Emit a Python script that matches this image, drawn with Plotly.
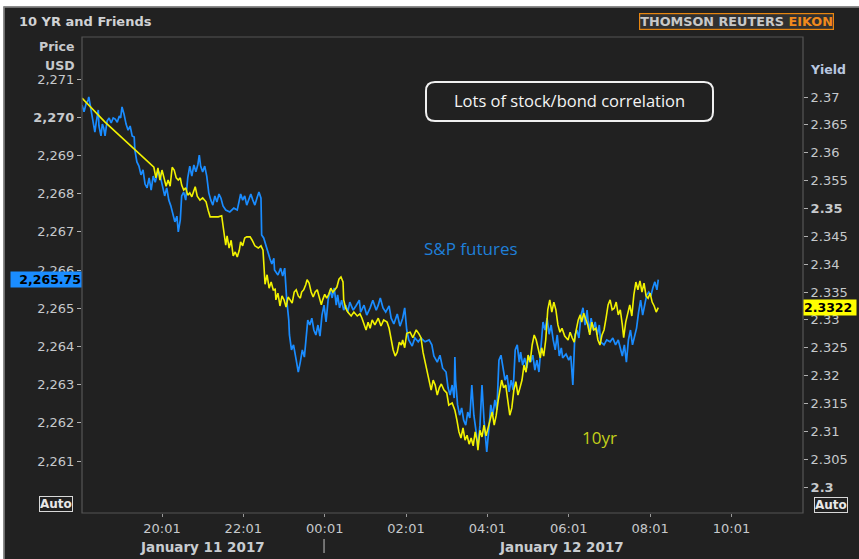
import plotly.graph_objects as go
import pandas as pd

# ---------------- data ----------------
BASE = pd.Timestamp("2017-01-11 18:00")

# S&P futures (left axis, price USD) - minutes after 2017-01-11 18:00
sp_minutes = [3,6,9,12,13,16,19,22,24,27,
    28,31,33,35,37,40,43,46,49,52,
    55,58,60,62,65,68,71,74,77,80,
    81,84,87,90,93,96,99,102,105,108,
    111,114,117,119,122,125,128,131,134,137,
    140,143,145,148,150,153,156,159,162,165,
    168,171,174,176,178,181,184,187,190,193,
    196,199,202,205,208,211,215,221,227,232,
    235,237,240,243,246,249,252,255,258,261,
    264,267,268,271,274,277,280,283,286,287,
    292,296,299,302,305,308,309,312,315,319,
    322,325,328,331,333,336,339,342,345,348,
    351,354,357,360,363,366,369,372,375,378,
    380,383,386,389,392,395,398,403,407,412,
    414,419,423,428,432,437,440,443,447,451,
    456,459,463,468,472,476,479,482,485,490,
    494,499,503,509,515,519,522,527,531,535,
    540,543,546,549,552,553,554,557,560,563,
    566,569,572,575,578,581,584,587,590,593,
    596,599,600,603,606,609,612,615,618,621,
    624,627,630,633,636,639,642,645,648,650,
    653,656,659,662,665,668,671,674,677,680,
    683,686,689,692,695,698,701,704,707,710,
    712,717,721,724,727,730,733,736,739,742,
    745,748,751,754,757,760,763,766,768,773,
    777,782,786,790,794,797,800,803,806,809,
    812,815,818,821,824,827,830,833,836,839,
    842,845,848,851,853]
sp_price = [2270.32,2270.14,2270.35,2270.45,2270.53,2270.24,2269.98,2269.61,2269.87,2270.19,
    2269.77,2269.51,2269.82,2269.72,2269.51,2269.90,2269.98,2269.85,2269.98,2269.95,
    2269.87,2270.03,2269.98,2270.27,2270.08,2269.82,2269.66,2269.77,2269.51,2269.48,
    2269.14,2268.83,2268.72,2268.49,2268.62,2268.25,2268.15,2268.41,2268.09,2268.46,
    2268.30,2268.51,2268.57,2268.41,2268.23,2267.94,2268.15,2267.83,2267.68,2267.47,
    2267.26,2267.41,2267.00,2267.31,2267.94,2268.04,2267.83,2268.41,2268.72,2268.46,
    2268.75,2268.57,2268.77,2269.01,2268.72,2268.57,2268.72,2268.46,2268.02,2267.83,
    2267.70,2267.94,2267.78,2267.99,2267.88,2267.68,2267.57,2267.52,2267.62,2267.57,
    2267.78,2267.99,2267.83,2267.94,2267.70,2267.86,2267.99,2267.83,2267.70,2267.88,
    2268.04,2267.88,2266.92,2266.84,2266.65,2266.52,2266.31,2266.16,2266.31,2266.00,
    2265.87,2266.05,2265.84,2266.05,2265.21,2264.69,2264.30,2263.91,2264.04,2263.64,
    2263.33,2263.59,2263.91,2263.72,2264.04,2264.69,2264.56,2264.74,2264.43,2264.30,
    2264.56,2264.27,2264.82,2265.08,2264.64,2265.21,2265.48,2265.27,2265.53,2265.08,
    2265.35,2265.01,2265.21,2264.95,2265.08,2264.90,2265.16,2264.95,2265.06,2265.21,
    2264.90,2265.08,2264.82,2265.01,2265.21,2264.95,2265.08,2265.27,2265.01,2264.90,
    2265.06,2264.74,2264.59,2264.85,2264.53,2264.74,2265.01,2264.43,2264.17,2264.01,
    2264.22,2264.12,2264.22,2264.12,2264.17,2264.04,2263.75,2263.59,2263.77,2263.43,
    2263.33,2262.91,2262.73,2262.99,2262.65,2263.72,2263.12,2262.47,2262.20,2262.39,
    2262.07,2261.94,2262.28,2262.13,2262.99,2262.20,2261.81,2261.34,2261.94,2262.99,
    2262.07,2261.55,2261.24,2261.81,2262.47,2262.20,2262.60,2262.34,2263.64,2263.77,
    2263.43,2263.12,2263.25,2262.81,2263.12,2262.86,2263.91,2264.04,2263.59,2263.85,
    2263.51,2263.70,2263.43,2263.75,2263.59,2263.77,2263.38,2263.64,2263.33,2264.04,
    2264.64,2264.43,2264.74,2264.32,2264.56,2264.17,2263.91,2264.30,2263.75,2263.96,
    2263.70,2263.80,2263.64,2263.75,2262.99,2264.30,2264.43,2264.22,2264.82,2265.01,
    2264.56,2264.95,2264.38,2264.74,2264.43,2264.64,2264.30,2264.56,2264.12,2264.04,
    2264.17,2264.12,2264.22,2264.04,2264.17,2263.96,2263.75,2264.04,2263.59,2264.17,
    2264.43,2264.04,2264.30,2264.48,2264.90,2265.21,2264.82,2265.08,2265.35,2265.42,
    2265.32,2265.53,2265.69,2265.48,2265.75]

# 10yr yield (right axis) - minutes after 2017-01-11 18:00
ty_minutes = [3,37,77,106,109,112,115,118,121,124,
    127,130,133,136,139,142,145,148,150,153,
    156,159,162,165,170,173,177,181,186,189,
    192,198,204,209,212,215,217,220,223,226,
    229,232,235,237,240,243,246,251,254,258,
    263,267,270,271,273,276,279,282,285,288,
    289,292,295,298,301,304,307,310,313,316,
    319,322,325,327,330,333,335,338,341,344,
    347,350,353,356,358,361,364,367,370,373,
    376,379,382,385,388,389,392,395,400,404,
    409,413,416,419,422,425,428,431,435,440,
    444,448,453,456,459,462,465,468,471,474,
    476,479,482,487,491,496,500,503,506,509,
    512,515,518,521,524,527,530,533,537,541,
    544,549,553,556,559,562,565,568,571,574,
    577,580,583,586,587,590,593,596,599,602,
    605,608,611,614,617,620,622,625,628,631,
    634,637,640,643,646,649,652,655,658,661,
    664,667,670,673,676,679,681,684,687,690,
    693,696,699,702,705,708,711,715,720,723,
    726,729,732,735,738,740,743,746,749,752,
    755,758,761,764,767,770,773,776,779,782,
    785,788,791,794,797,800,802,805,808,811,
    814,817,820,823,826,829,832,835,838,841,
    844,847,850,853]
ty_yield = [2.3698,2.3655,2.3610,2.3578,2.3574,2.3555,2.3573,2.3551,2.3569,2.3555,
    2.3540,2.3551,2.3540,2.3574,2.3569,2.3555,2.3551,2.3555,2.3542,2.3533,
    2.3537,2.3524,2.3528,2.3521,2.3539,2.3522,2.3515,2.3519,2.3512,2.3497,
    2.3485,2.3485,2.3485,2.3487,2.3456,2.3434,2.3451,2.3429,2.3443,2.3415,
    2.3422,2.3413,2.3425,2.3440,2.3433,2.3447,2.3449,2.3449,2.3443,2.3433,
    2.3429,2.3433,2.3425,2.3404,2.3364,2.3381,2.3357,2.3368,2.3354,2.3355,
    2.3336,2.3348,2.3325,2.3343,2.3336,2.3323,2.3341,2.3336,2.3330,2.3350,
    2.3354,2.3343,2.3339,2.3350,2.3354,2.3363,2.3372,2.3366,2.3350,2.3341,
    2.3350,2.3354,2.3341,2.3327,2.3336,2.3346,2.3339,2.3346,2.3357,2.3350,
    2.3354,2.3359,2.3373,2.3377,2.3368,2.3336,2.3321,2.3314,2.3307,2.3314,
    2.3307,2.3311,2.3303,2.3291,2.3282,2.3296,2.3285,2.3300,2.3291,2.3303,
    2.3289,2.3300,2.3296,2.3285,2.3264,2.3246,2.3235,2.3242,2.3260,2.3255,
    2.3264,2.3250,2.3276,2.3278,2.3268,2.3282,2.3275,2.3268,2.3242,2.3224,
    2.3206,2.3189,2.3174,2.3192,2.3183,2.3165,2.3178,2.3185,2.3174,2.3169,
    2.3147,2.3151,2.3138,2.3120,2.3099,2.3088,2.3106,2.3084,2.3093,2.3077,
    2.3088,2.3074,2.3099,2.3081,2.3066,2.3102,2.3090,2.3111,2.3092,2.3106,
    2.3120,2.3135,2.3111,2.3129,2.3156,2.3183,2.3192,2.3178,2.3183,2.3156,
    2.3129,2.3142,2.3174,2.3189,2.3165,2.3178,2.3192,2.3219,2.3206,2.3237,
    2.3224,2.3255,2.3273,2.3264,2.3246,2.3232,2.3250,2.3235,2.3264,2.3318,
    2.3336,2.3314,2.3332,2.3318,2.3291,2.3278,2.3285,2.3271,2.3264,2.3278,
    2.3268,2.3260,2.3282,2.3300,2.3309,2.3296,2.3312,2.3303,2.3291,2.3273,
    2.3296,2.3282,2.3285,2.3264,2.3255,2.3273,2.3282,2.3303,2.3327,2.3336,
    2.3318,2.3321,2.3332,2.3309,2.3318,2.3291,2.3268,2.3296,2.3314,2.3327,
    2.3307,2.3345,2.3368,2.3354,2.3370,2.3350,2.3366,2.3343,2.3339,2.3348,
    2.3332,2.3325,2.3314,2.3322]

left_ticks = [2261, 2262, 2263, 2264, 2265, 2266, 2267, 2268, 2269, 2270, 2271]
left_ticktext = ["2,261", "2,262", "2,263", "2,264", "2,265", "2,266", "2,267",
                 "2,268", "2,269", "<b>2,270</b>", "2,271"]
right_ticks = [2.300, 2.305, 2.310, 2.315, 2.320, 2.325, 2.330, 2.335,
               2.340, 2.345, 2.350, 2.355, 2.360, 2.365, 2.370]
right_ticktext = ["<b>2.3</b>", "2.305", "2.31", "2.315", "2.32", "2.325", "2.33",
                  "2.335", "2.34", "2.345", "<b>2.35</b>", "2.355", "2.36", "2.365", "2.37"]
x_tick_times = ["2017-01-11 20:01", "2017-01-11 22:01", "2017-01-12 00:01",
                "2017-01-12 02:01", "2017-01-12 04:01", "2017-01-12 06:01",
                "2017-01-12 08:01", "2017-01-12 10:01"]
x_tick_labels = ["20:01", "22:01", "00:01", "02:01", "04:01", "06:01", "08:01", "10:01"]
date_labels = ["January 11 2017", "January 12 2017"]
date_label_times = ["2017-01-11 21:00", "2017-01-12 05:51"]
day_break = "2017-01-12 00:00"
sp_last = 2265.75
ty_last = 2.3322

# ---------------- layout helpers ----------------
W, H = 859, 559
L, R, T, B = 82, 803, 37, 513


def px(x):
    return (x - L) / (R - L)


def py(y):
    return (B - y) / (B - T)


BG = "#212121"
TXT = "#c6c9cc"
FONT = "DejaVu Sans"
BLUE = "#1a8cff"
YELLOW = "#f2f200"

sp_t = [BASE + pd.Timedelta(minutes=m) for m in sp_minutes]
ty_t = [BASE + pd.Timedelta(minutes=m) for m in ty_minutes]

fig = go.Figure()
fig.add_trace(go.Scatter(x=sp_t, y=sp_price, mode="lines", name="S&P futures",
                         line=dict(color=BLUE, width=1.7), yaxis="y"))
fig.add_trace(go.Scatter(x=ty_t, y=ty_yield, mode="lines", name="10yr",
                         line=dict(color=YELLOW, width=1.6), yaxis="y2"))

tickfont = dict(family=FONT, size=13, color=TXT)

fig.update_layout(
    width=W, height=H,
    margin=dict(l=L, r=W - R, t=T, b=H - B, pad=0),
    paper_bgcolor=BG, plot_bgcolor=BG,
    showlegend=False,
    font=dict(family=FONT, color=TXT),
    xaxis=dict(type="date",
               range=["2017-01-11 18:03", "2017-01-12 11:46:30"],
               tickvals=x_tick_times, ticktext=x_tick_labels,
               ticks="outside", ticklen=3, tickcolor="#9a9a9a",
               tickfont=tickfont, showgrid=False, zeroline=False, showline=False),
    yaxis=dict(range=[2259.64, 2272.10], tickvals=left_ticks, ticktext=left_ticktext,
               ticks="outside", ticklen=4, tickcolor="#b0b0b0", tickfont=tickfont,
               showgrid=False, zeroline=False, showline=False),
    yaxis2=dict(range=[2.29534, 2.38078], tickvals=right_ticks, ticktext=right_ticktext,
                overlaying="y", side="right",
                ticks="outside", ticklen=4, tickcolor="#b0b0b0", tickfont=tickfont,
                showgrid=False, zeroline=False, showline=False),
)

shapes = []
# white outer strips (top / left)
shapes.append(dict(type="rect", xref="paper", yref="paper", x0=px(-2), x1=px(W + 2),
                   y0=py(6.5), y1=py(-2), fillcolor="#ffffff", line=dict(width=0)))
shapes.append(dict(type="rect", xref="paper", yref="paper", x0=px(-2), x1=px(3.5),
                   y0=py(H + 2), y1=py(-2), fillcolor="#ffffff", line=dict(width=0)))
shapes.append(dict(type="path", xref="paper", yref="paper",
                   path=f"M {px(4)},{py(H+2)} L {px(4)},{py(7)} L {px(W+2)},{py(7)}",
                   line=dict(color="#8a8a8a", width=1.5)))
# plot border
shapes.append(dict(type="rect", xref="paper", yref="paper", x0=0, x1=1, y0=0, y1=1,
                   line=dict(color="#555555", width=1.2)))
# day separator
shapes.append(dict(type="line", xref="x", yref="paper", x0=day_break, x1=day_break,
                   y0=py(539), y1=py(553), line=dict(color="#a8a8a8", width=1.2)))


def rounded(x0, y0, x1, y1, r):
    return (f"M {px(x0+r)},{py(y0)} L {px(x1-r)},{py(y0)} "
            f"Q {px(x1)},{py(y0)} {px(x1)},{py(y0+r)} L {px(x1)},{py(y1-r)} "
            f"Q {px(x1)},{py(y1)} {px(x1-r)},{py(y1)} L {px(x0+r)},{py(y1)} "
            f"Q {px(x0)},{py(y1)} {px(x0)},{py(y1-r)} L {px(x0)},{py(y0+r)} "
            f"Q {px(x0)},{py(y0)} {px(x0+r)},{py(y0)} Z")


shapes.append(dict(type="path", xref="paper", yref="paper",
                   path=rounded(426, 82, 713, 121, 9),
                   line=dict(color="#f0f0f0", width=2), fillcolor="rgba(0,0,0,0)"))
fig.update_layout(shapes=shapes)

ann = []


def text(x, y, s, size=12, color=TXT, xanchor="center", **kw):
    ann.append(dict(x=px(x), y=py(y), xref="paper", yref="paper", text=s,
                    showarrow=False, xanchor=xanchor, yanchor="middle",
                    font=dict(family=kw.pop("family", FONT), size=size, color=color), **kw))


text(17, 22, "<b>10 YR and Friends</b>", size=13, color="#d0d2d4", xanchor="left")
text(77, 46, "<b>Price</b>", size=12.5, xanchor="right")
text(77, 65, "<b>USD</b>", size=12.5, xanchor="right")
text(828, 69, "<b>Yield</b>", size=12.5, color="#b9c8e0")
text(736.5, 22, '<b>THOMSON REUTERS <span style="color:#f08a1c">EIKON</span></b>',
     size=12.8, color="#c8c8c8", bordercolor="#e8860f", borderwidth=1.2,
     borderpad=0, bgcolor="#303030")
text(569, 101, "Lots of stock/bond correlation", size=16.5, color="#f4f4f4",
     family="Open Sans")
text(471, 248, "S&P futures", size=17, color="#1f7fd8", family="Open Sans")
text(599, 437, "10yr", size=17, color="#c3d01a", family="Open Sans")
text(56, 504, "<b>Auto</b>", size=12, color="#e8e8e8", bordercolor="#d8d8d8",
     borderwidth=1, borderpad=0)
text(831, 505, "<b>Auto</b>", size=12, color="#e8e8e8", bordercolor="#d8d8d8",
     borderwidth=1, borderpad=0)

for lab, t in zip(date_labels, date_label_times):
    ann.append(dict(x=t, xref="x", y=py(547), yref="paper", text=f"<b>{lab}</b>",
                    showarrow=False, xanchor="center", yanchor="middle",
                    font=dict(family=FONT, size=13.5, color="#c8ccd0")))

# last-value tags
ann.append(dict(x=0, xref="paper", y=sp_last, yref="y", text=f"<b>{sp_last:,.2f}</b>",
                showarrow=False, xanchor="right", yanchor="middle", bgcolor=BLUE,
                width=70, align="right", borderpad=0,
                font=dict(family=FONT, size=12.5, color="#000000")))
ann.append(dict(x=1, xref="paper", y=ty_last, yref="y2", text=f"<b>{ty_last:.4f}</b>",
                showarrow=False, xanchor="left", yanchor="middle", bgcolor="#ffff00",
                width=52, align="left", borderpad=0,
                font=dict(family=FONT, size=12.5, color="#000000")))

fig.update_layout(annotations=ann)
fig.write_html("out.html", config={"displayModeBar": False},
               post_script="document.body.style.margin='0';document.body.style.padding='0';"
                           "document.body.style.overflow='hidden';")
